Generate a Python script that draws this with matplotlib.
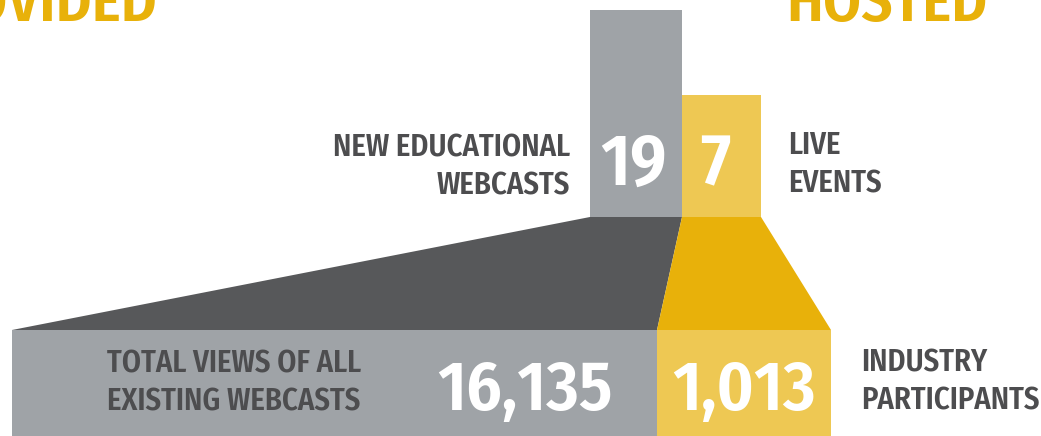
import matplotlib.pyplot as plt
from matplotlib.patches import Polygon

# values shown in the graphic
top_values = [19, 7]
top_labels = ["NEW EDUCATIONAL\nWEBCASTS", "LIVE\nEVENTS"]
bottom_values = [16135, 1013]
bottom_labels = ["TOTAL VIEWS OF ALL\nEXISTING WEBCASTS", "INDUSTRY\nPARTICIPANTS"]
titles = ["PROVIDED", "HOSTED"]

GREY = "#9fa3a7"
DARK = "#57585a"
YEL_LIGHT = "#eec853"
YEL = "#e8b10a"
TXT = "#4d4d4f"
FONT = ["Fira Sans Condensed", "PT Sans Narrow", "Liberation Sans Narrow", "DejaVu Sans"]

fig = plt.figure(figsize=(10.41, 4.36), dpi=100)
ax = fig.add_axes([0, 0, 1, 1])
ax.set_xlim(0, 1041)
ax.set_ylim(436, 0)
ax.axis("off")

# layout (pixels)
top_x = [590, 682]
top_w = [92, 79]
top_y = [10, 95]
top_base = 217
bot_x = [12, 657]
bot_w = [645, 174]
bot_top = 330

# top bars
for i in range(2):
    ax.bar(top_x[i], top_base - top_y[i], bottom=top_y[i], width=top_w[i],
           align="edge", color=[GREY, YEL_LIGHT][i], linewidth=0)

# funnels
ax.add_patch(Polygon([(top_x[0], top_base), (top_x[1], top_base),
                      (bot_x[1], bot_top), (bot_x[0], bot_top)],
                     closed=True, color=DARK, lw=0))
ax.add_patch(Polygon([(top_x[1], top_base), (top_x[1] + top_w[1], top_base),
                      (bot_x[1] + bot_w[1], bot_top), (bot_x[1], bot_top)],
                     closed=True, color=YEL, lw=0))

# bottom bars
for i in range(2):
    ax.bar(bot_x[i], 436 - bot_top, bottom=bot_top, width=bot_w[i],
           align="edge", color=[GREY, YEL_LIGHT][i], linewidth=0)

# numbers
num = dict(color="white", fontweight="semibold", family=FONT,
           ha="center", va="baseline")
ax.text(top_x[0] + top_w[0] / 2 - 2, 185, f"{top_values[0]:,}", fontsize=52, **num)
ax.text(top_x[1] + top_w[1] / 2 - 6, 185, f"{top_values[1]:,}", fontsize=52, **num)
ax.text(525, 410, f"{bottom_values[0]:,}", fontsize=50, **num)
ax.text(bot_x[1] + bot_w[1] / 2, 410, f"{bottom_values[1]:,}", fontsize=50, **num)

# labels
lab = dict(color=TXT, fontsize=22, fontweight="semibold", family=FONT,
           va="center", linespacing=1.33)
ax.text(570, 167, top_labels[0], ha="right", multialignment="right", **lab)
ax.text(788, 165, top_labels[1], ha="left", **lab)
ax.text(107, 383, bottom_labels[0], ha="left", **lab)
ax.text(861, 382, bottom_labels[1], ha="left", **lab)

# cut-off headings
ax.text(157, 21, titles[0], color=YEL, fontsize=44, fontweight="semibold",
        family=FONT, ha="right", va="baseline")
ax.text(786, 21, titles[1], color=YEL, fontsize=44, fontweight="semibold",
        family=FONT, ha="left", va="baseline")

fig.savefig("out.png", dpi=100)
